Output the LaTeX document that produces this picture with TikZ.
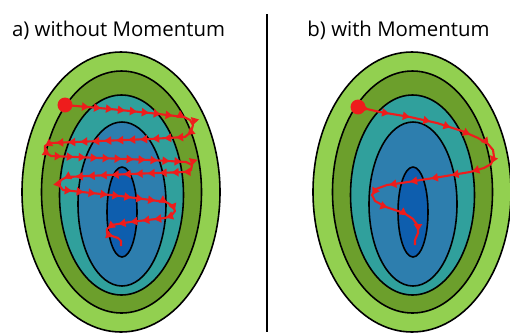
\documentclass[tikz,border=0pt]{standalone}
\usepackage{fontspec}
\setmainfont{Open Sans}
\usetikzlibrary{decorations.markings,arrows.meta}

\definecolor{lightgrn}{HTML}{92D050}
\definecolor{darkgrn}{HTML}{6C9F2C}
\definecolor{tealc}{HTML}{30A09C}
\definecolor{midblue}{HTML}{2D7EAE}
\definecolor{deepblue}{HTML}{0E5EAE}
\definecolor{pathred}{HTML}{EE1C1C}

\tikzset{
  contour/.style={draw=black,line width=0.9pt},
  title/.style={font=\fontsize{11.6}{13}\selectfont,anchor=base},
  descent/.style={draw=pathred,line width=1.2pt,line join=round,
    postaction={decorate,decoration={markings,
      mark=between positions 0.03 and 0.99 step #1 with
        {\arrow{Triangle[length=4pt,width=4.6pt]}}}}},
  startdot/.style={circle,fill=pathred,inner sep=0pt,minimum size=8.5pt}
}

% the five nested level sets, centred at (#1,0)
\newcommand\levelsets[1]{%
  \begin{scope}[shift={(#1,0)}]
    \fill[lightgrn] (121,192) ellipse [x radius=99,y radius=140];
    \draw[contour] (121,192) ellipse [x radius=99,y radius=140];
    \draw[contour,fill=darkgrn] (121.5,192) ellipse [x radius=80,y radius=121];
    \draw[contour,fill=tealc] (121.5,195) ellipse [x radius=62,y radius=100];
    \draw[contour,fill=midblue] (122,204) ellipse [x radius=44,y radius=82];
    \draw[contour,fill=deepblue] (122,212) ellipse [x radius=15,y radius=45];
  \end{scope}}

\begin{document}
\begin{tikzpicture}[x=0.02cm,y=-0.02cm]
  \useasboundingbox (0,0) rectangle (510,332);
  \fill[white] (0,0) rectangle (510,332);

  \node[title] (ttla) at (118.5,36) {a) without Momentum};
  \node[title] (ttlb) at (398.5,36) {b) with Momentum};
  \coordinate (divtop) at (267,14);
  \coordinate (divbot) at (267,332);
  \draw[line width=1.2pt] (divtop) -- (divbot);

  \levelsets{0}
  \levelsets{291}

  % a) zig-zag across the narrow valley
  \draw[descent=0.24cm] (65,105) -- (110,109) -- (150,113) -- (184,117)
    -- (190,120) -- (193,125) -- (191,132) -- (185,137) -- (150,139)
    -- (100,141) -- (50,143) -- (45,146) -- (45,152) -- (51,156)
    -- (100,158) -- (150,160) -- (186,162) -- (192,165) -- (191,170)
    -- (185,172) -- (130,174) -- (67,177) -- (61,180) -- (59,185)
    -- (63,190) -- (120,196) -- (166,202) -- (173,206) -- (175,211)
    -- (171,216) -- (165,218) -- (130,222) -- (112,225) -- (107,229)
    -- (107,233) -- (112,236) -- (118,238) -- (121,241) -- (121,246);
  \node[startdot] (sa) at (65,105) {};

  % b) fewer, longer steps
  \draw[descent=0.42cm] (358,107) -- (380,112) -- (410,117) -- (437,123)
    -- (462,131) -- (478,138) -- (488,144) -- (493,150) -- (494,157)
    -- (491,164) -- (484,168) -- (470,172) -- (440,177) -- (408,182)
    -- (387,185) -- (376,189) -- (372,195) -- (375,201) -- (386,207)
    -- (404,213) -- (413,219) -- (418,226) -- (418,233) -- (415,240)
    -- (415,245);
  \node[startdot] (sb) at (358,107) {};
\end{tikzpicture}
\end{document}
